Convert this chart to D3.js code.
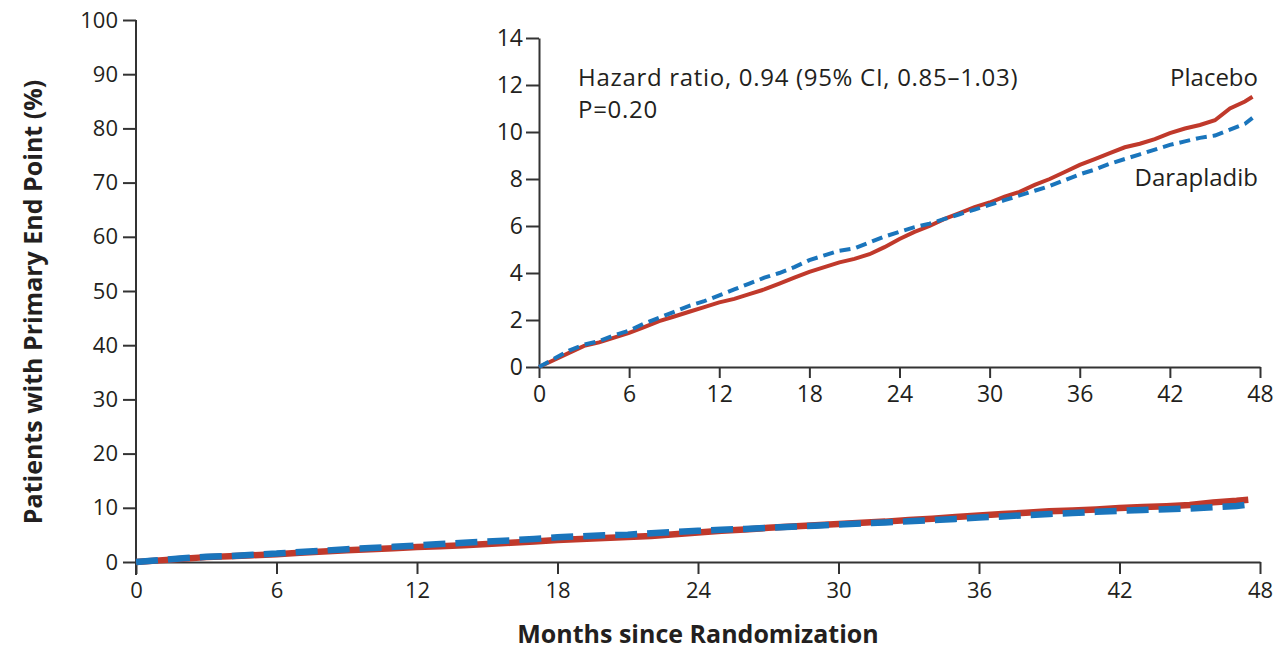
<!DOCTYPE html>
<html><head><meta charset="utf-8">
<script src="https://cdn.jsdelivr.net/npm/d3@7"></script>
<style>body{margin:0;background:#fff}svg{display:block}text{font-family:"Open Sans",sans-serif;fill:#231f20}</style>
</head><body>
<svg id="c" width="1276" height="649"></svg>
<script>
const months = [0,1,2,3,4,5,6,7,8,9,10,11,12,13,14,15,16,17,18,19,20,21,22,23,24,25,26,27,28,29,30,31,32,33,34,35,36,37,38,39,40,41,42,43,44,45,46,47,47.5];
const placebo = [0,0.3,0.6,0.9,1.05,1.25,1.45,1.7,1.95,2.15,2.35,2.55,2.75,2.9,3.1,3.3,3.55,3.8,4.05,4.25,4.45,4.6,4.8,5.1,5.45,5.75,6.0,6.3,6.55,6.8,7.0,7.25,7.45,7.75,8.0,8.3,8.6,8.85,9.1,9.35,9.5,9.7,9.95,10.15,10.3,10.5,11.0,11.3,11.5];
const darapladib = [0,0.35,0.7,0.95,1.1,1.35,1.55,1.85,2.1,2.35,2.6,2.8,3.05,3.3,3.55,3.8,4.0,4.25,4.55,4.75,4.95,5.05,5.3,5.55,5.75,5.95,6.1,6.3,6.5,6.7,6.9,7.1,7.3,7.5,7.7,7.95,8.2,8.4,8.65,8.85,9.05,9.25,9.45,9.6,9.75,9.85,10.1,10.35,10.6];
const xTicks = [0,6,12,18,24,30,36,42,48];
const mainYTicks = [0,10,20,30,40,50,60,70,80,90,100];
const insetYTicks = [0,2,4,6,8,10,12,14];
const RED = "#c0392b", BLUE = "#1a75bc", AX = "#333";
const FONT = "'Open Sans',sans-serif";

const svg = d3.select("#c");

function styleAxis(g, fs){
  g.select(".domain").attr("stroke", AX).attr("stroke-width", 2);
  g.selectAll(".tick line").attr("stroke", AX).attr("stroke-width", 2);
  g.selectAll(".tick text").attr("font-size", fs).attr("fill", "#231f20").style("font-family", FONT);
}

// Main chart
const x = d3.scaleLinear().domain([0,48]).range([136,1260]);
const y = d3.scaleLinear().domain([0,100]).range([562,20]);
const gx = svg.append("g").attr("transform","translate(0,562)")
  .call(d3.axisBottom(x).tickValues(xTicks).tickSize(12).tickSizeOuter(0).tickPadding(8));
styleAxis(gx, 22);
const gy = svg.append("g").attr("transform","translate(136,0)")
  .call(d3.axisLeft(y).tickValues(mainYTicks).tickSize(13).tickSizeOuter(0).tickPadding(5));
styleAxis(gy, 22);
gy.select(".domain").attr("d", `M0,${y(100)}V575`);

const lineMain = d3.line().x((d,i)=>x(months[i])).y(d=>y(d));
svg.append("path").attr("d", lineMain(placebo)).attr("fill","none").attr("stroke",RED).attr("stroke-width",6.5);
svg.append("path").attr("d", lineMain(darapladib)).attr("fill","none").attr("stroke",BLUE).attr("stroke-width",6.5).attr("stroke-dasharray","22,10");

svg.append("text").attr("x",698).attr("y",643).attr("text-anchor","middle").attr("font-size",25).attr("font-weight","bold").text("Months since Randomization");
svg.append("text").attr("transform","translate(42,302) rotate(-90)").attr("text-anchor","middle").attr("font-size",25).attr("font-weight","bold").text("Patients with Primary End Point (%)");

// Inset
const xi = d3.scaleLinear().domain([0,48]).range([539,1260]);
const yi = d3.scaleLinear().domain([0,14]).range([367,38]);
const gxi = svg.append("g").attr("transform","translate(0,367)")
  .call(d3.axisBottom(xi).tickValues(xTicks).tickSize(11).tickSizeOuter(0).tickPadding(8));
styleAxis(gxi, 23);
const gyi = svg.append("g").attr("transform","translate(539,0)")
  .call(d3.axisLeft(yi).tickValues(insetYTicks).tickSize(13).tickSizeOuter(0).tickPadding(3));
styleAxis(gyi, 23);

const lineIn = d3.line().x((d,i)=>xi(months[i])).y(d=>yi(d));
svg.append("path").attr("d", lineIn(placebo)).attr("fill","none").attr("stroke",RED).attr("stroke-width",4);
svg.append("path").attr("d", lineIn(darapladib)).attr("fill","none").attr("stroke",BLUE).attr("stroke-width",4).attr("stroke-dasharray","11,6");

svg.append("text").attr("x",578).attr("y",86).attr("font-size",24).attr("letter-spacing",0.7).text("Hazard ratio, 0.94 (95% CI, 0.85\u20131.03)");
svg.append("text").attr("x",578).attr("y",118).attr("font-size",24).attr("letter-spacing",0.7).text("P=0.20");
svg.append("text").attr("x",1258).attr("y",86).attr("text-anchor","end").attr("font-size",24).text("Placebo");
svg.append("text").attr("x",1258).attr("y",186).attr("text-anchor","end").attr("font-size",24).text("Darapladib");
</script>
</body></html>
